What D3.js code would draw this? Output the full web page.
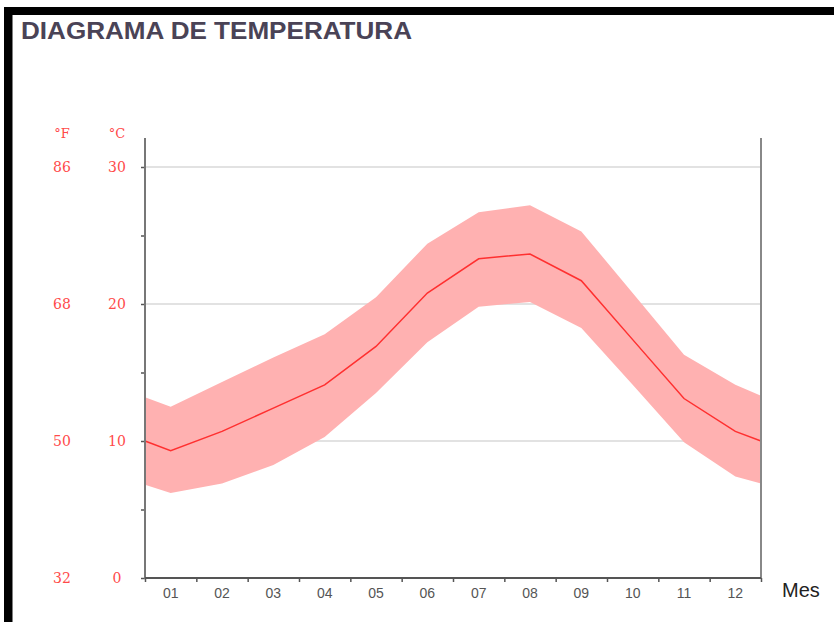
<!DOCTYPE html>
<html>
<head>
<meta charset="utf-8">
<script src="https://cdn.jsdelivr.net/npm/d3@7"></script>
<style>
  html, body { margin: 0; padding: 0; background: #fff; }
  svg { display: block; }
</style>
</head>
<body>
<svg id="chart" width="834" height="622"></svg>
<script>
// ---- data ----
const months = ["01","02","03","04","05","06","07","08","09","10","11","12"];
const meanTemp = [9.3, 10.7, 12.4, 14.1, 16.9, 20.8, 23.3, 23.65, 21.7, 17.4, 13.1, 10.7];
const maxTemp  = [12.5, 14.3, 16.1, 17.8, 20.5, 24.4, 26.7, 27.2, 25.3, 20.8, 16.3, 14.1];
const minTemp  = [6.2, 6.9, 8.25, 10.3, 13.5, 17.2, 19.8, 20.15, 18.25, 14.1, 9.9, 7.4];
// values at the left/right edges of the plot (year wrap)
const edgeMean = [10.0, 10.0];
const edgeMax  = [13.2, 13.3];
const edgeMin  = [6.8, 6.9];
const celsiusTicks = [0, 10, 20, 30];
const fahrenheitTicks = ["32", "50", "68", "86"];
const title = "DIAGRAMA DE TEMPERATURA";
const xAxisTitle = "Mes";

// ---- layout ----
const svg = d3.select("#chart");
const plotL = 145, plotR = 761, plotT = 167, plotB = 578;

// frame
svg.append("rect").attr("x", 4).attr("y", 7).attr("width", 830).attr("height", 8).attr("fill", "#000");
svg.append("rect").attr("x", 4).attr("y", 7).attr("width", 8.5).attr("height", 615).attr("fill", "#000");

svg.append("text").attr("x", 21).attr("y", 39)
  .attr("font-family", "'Liberation Sans Narrow', 'Arial Narrow', sans-serif")
  .attr("font-weight", "bold").attr("font-size", 23)
  .attr("fill", "#4a4356")
  .attr("textLength", 391).attr("lengthAdjust", "spacingAndGlyphs")
  .text(title);

const x = d3.scaleLinear().domain([0, 12]).range([plotL, plotR]);
const xBand = d3.scaleBand().domain(months).range([plotL, plotR]);
const y = d3.scaleLinear().domain([0, 30]).range([plotB, plotT]);

// gridlines
svg.append("g").selectAll("line").data(celsiusTicks.filter(d => d > 0)).join("line")
  .attr("x1", plotL).attr("x2", plotR)
  .attr("y1", d => y(d)).attr("y2", d => y(d))
  .attr("stroke", "#d9d9d9").attr("stroke-width", 1.5);

// build series with edge points
const pts = (edge, vals) => [
  { i: 0, v: edge[0] },
  ...vals.map((v, k) => ({ i: k + 0.5, v })),
  { i: 12, v: edge[1] }
];
const maxPts = pts(edgeMax, maxTemp);
const minPts = pts(edgeMin, minTemp);
const meanPts = pts(edgeMean, meanTemp);
const bandData = maxPts.map((d, k) => ({ i: d.i, hi: d.v, lo: minPts[k].v }));

svg.append("path").datum(bandData)
  .attr("fill", "#ffb1b1")
  .attr("d", d3.area().x(d => x(d.i)).y0(d => y(d.lo)).y1(d => y(d.hi)));

svg.append("path").datum(meanPts)
  .attr("fill", "none").attr("stroke", "#ff3030").attr("stroke-width", 1.5)
  .attr("d", d3.line().x(d => x(d.i)).y(d => y(d.v)));

// left axis with minor ticks
const yAxis = d3.axisLeft(y).tickValues(d3.range(0, 35, 5)).tickSize(4).tickFormat("");
const gy = svg.append("g").attr("transform", `translate(${plotL},0)`).call(yAxis);
gy.select(".domain").remove();
gy.selectAll(".tick line").attr("stroke", "#555").attr("stroke-width", 1.5);
svg.append("line").attr("x1", plotL).attr("x2", plotL).attr("y1", 138).attr("y2", plotB + 1)
  .attr("stroke", "#777").attr("stroke-width", 2);
svg.append("line").attr("x1", plotR).attr("x2", plotR).attr("y1", 138).attr("y2", plotB + 1)
  .attr("stroke", "#888").attr("stroke-width", 2);

// bottom axis
const xAxis = d3.axisBottom(x).tickValues(d3.range(0, 13)).tickSize(4).tickFormat("");
const gx = svg.append("g").attr("transform", `translate(0,${plotB})`).call(xAxis);
gx.select(".domain").remove();
gx.selectAll(".tick line").attr("stroke", "#555").attr("stroke-width", 1.5);
svg.append("line").attr("x1", plotL).attr("x2", plotR).attr("y1", plotB).attr("y2", plotB)
  .attr("stroke", "#555").attr("stroke-width", 2);

svg.append("g").selectAll("text").data(months).join("text")
  .attr("x", d => xBand(d) + xBand.bandwidth() / 2).attr("y", 598)
  .attr("text-anchor", "middle")
  .attr("font-family", "'Liberation Sans', Arial, sans-serif").attr("font-size", 14)
  .attr("fill", "#555").text(d => d);

svg.append("text").attr("x", 782).attr("y", 597)
  .attr("font-family", "'Liberation Sans', Arial, sans-serif").attr("font-size", 20)
  .attr("fill", "#222").text(xAxisTitle);

// temperature labels
const labelFont = "'DejaVu Serif', 'Liberation Serif', serif";
svg.append("g").selectAll("text").data(celsiusTicks).join("text")
  .attr("x", 117).attr("y", d => y(d) + 5).attr("text-anchor", "middle")
  .attr("font-family", labelFont).attr("font-size", 14).attr("fill", "#ff4a4a")
  .text(d => d);
svg.append("g").selectAll("text").data(fahrenheitTicks).join("text")
  .attr("x", 62).attr("y", (d, k) => y(celsiusTicks[k]) + 5).attr("text-anchor", "middle")
  .attr("font-family", labelFont).attr("font-size", 14).attr("fill", "#ff4a4a")
  .text(d => d);
svg.append("text").attr("x", 62).attr("y", 138).attr("text-anchor", "middle")
  .attr("font-family", labelFont).attr("font-size", 13).attr("fill", "#ff4a4a").text("°F");
svg.append("text").attr("x", 117).attr("y", 138).attr("text-anchor", "middle")
  .attr("font-family", labelFont).attr("font-size", 13).attr("fill", "#ff4a4a").text("°C");
</script>
</body>
</html>
